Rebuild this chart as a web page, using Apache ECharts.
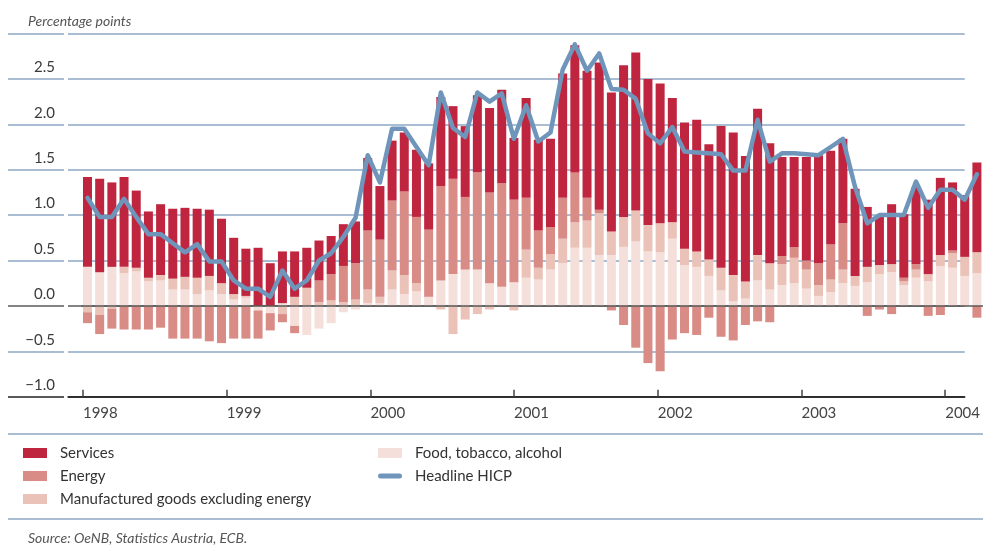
<!DOCTYPE html>
<html>
<head>
<meta charset="utf-8">
<script src="https://cdn.jsdelivr.net/npm/echarts@6/dist/echarts.min.js"></script>
<style>
  html, body { margin: 0; padding: 0; background: #fff; }
  #chart { width: 983px; height: 547px; }
</style>
</head>
<body>
<div id="chart"></div>
<script>
// tick labels on the time axis (one per January)
var years = ['1998', '1999', '2000', '2001', '2002', '2003', '2004'];
var monthNames = ['Jan', 'Feb', 'Mar', 'Apr', 'May', 'Jun', 'Jul', 'Aug', 'Sep', 'Oct', 'Nov', 'Dec'];

// contributions, percentage points, monthly Jan 1998 - Feb 2004
var food = [0.43, 0.37, 0.43, 0.36, 0.38, 0.27, 0.28, 0.18, 0.18, 0.13, 0.17, 0.13,
  0.07, 0.09, -0.05, -0.08, 0.03, -0.22, -0.32, -0.25, -0.19, -0.07, -0.04, 0.03,
  0.03, 0.18, 0.13, 0.16, 0.10, 0.28, 0.35, 0.40, 0.40, 0.25, 0.21, 0.26,
  0.31, 0.29, 0.40, 0.47, 0.64, 0.64, 0.56, 0.56, 0.65, 0.71, 0.60, 0.59,
  0.74, 0.45, 0.43, 0.33, 0.17, 0.05, 0.08, 0.28, 0.18, 0.23, 0.25, 0.19,
  0.11, 0.15, 0.25, 0.22, 0.26, 0.35, 0.37, 0.23, 0.31, 0.27, 0.44, 0.42,
  0.33, 0.36];
var manufactured = [-0.07, -0.10, -0.03, 0.07, 0.04, 0.04, 0.06, 0.12, 0.14, 0.18, 0.16, 0.12,
  0.06, 0.02, 0, 0, -0.09, 0.10, 0.20, 0.04, 0.06, 0.04, 0.07, 0.15,
  0.07, 0.21, 0.21, 0.09, 0, -0.04, -0.31, -0.15, -0.09, -0.04, 0, -0.05,
  0.31, 0.13, 0.17, 0.27, 0.28, 0.30, 0.46, 0.26, 0.33, 0.34, 0.29, 0.32,
  0.18, 0.18, 0.17, 0.18, 0.25, 0.29, 0.19, 0.28, 0.29, 0.23, 0.28, 0.21,
  0.12, 0.14, 0.15, 0.11, 0.17, 0.10, 0.09, 0.04, 0.09, 0.08, 0.12, 0.16,
  0.21, 0.23];
var energy = [-0.12, -0.21, -0.22, -0.26, -0.26, -0.26, -0.24, -0.36, -0.36, -0.36, -0.39, -0.41,
  -0.36, -0.36, -0.31, -0.19, -0.09, -0.08, 0, 0.24, 0.29, 0.40, 0.40, 0.65,
  0.63, 0.77, 0.92, 0.73, 0.74, 1.04, 1.05, 0.80, 1.07, 1.00, 1.14, 0.91,
  0.57, 0.41, 0.30, 0.45, 0.55, 0.25, 0.04, -0.05, -0.21, -0.46, -0.63, -0.72,
  -0.37, -0.30, -0.32, -0.13, -0.34, -0.38, -0.21, -0.17, -0.18, 0.09, 0.12, 0.10,
  0.24, 0.39, 0.51, 0, -0.11, -0.04, -0.09, 0.04, 0.06, -0.11, -0.10, 0.03,
  0, -0.13];
var services = [0.99, 1.03, 0.93, 0.99, 0.85, 0.73, 0.78, 0.77, 0.76, 0.76, 0.73, 0.71,
  0.62, 0.52, 0.64, 0.47, 0.57, 0.50, 0.44, 0.44, 0.42, 0.46, 0.46, 0.80,
  0.59, 0.66, 0.65, 0.74, 0.73, 0.98, 0.80, 0.78, 0.85, 0.93, 1.03, 0.68,
  1.10, 1.00, 0.97, 1.37, 1.40, 1.40, 1.62, 1.53, 1.67, 1.74, 1.61, 1.54,
  1.37, 1.39, 1.45, 1.27, 1.56, 1.57, 1.38, 1.61, 1.32, 1.09, 0.99, 1.14,
  1.19, 1.03, 0.93, 0.96, 0.66, 0.54, 0.66, 0.70, 0.85, 0.82, 0.85, 0.75,
  0.68, 0.99];
var hicp = [1.19, 0.98, 0.98, 1.18, 0.98, 0.79, 0.79, 0.69, 0.59, 0.68, 0.49, 0.49,
  0.28, 0.19, 0.19, 0.10, 0.39, 0.19, 0.28, 0.50, 0.58, 0.76, 0.97, 1.66,
  1.36, 1.95, 1.95, 1.75, 1.55, 2.35, 1.96, 1.86, 2.35, 2.25, 2.34, 1.84,
  2.21, 1.81, 1.91, 2.60, 2.88, 2.59, 2.78, 2.39, 2.38, 2.28, 1.90, 1.79,
  1.97, 1.70, 1.69, 1.68, 1.67, 1.49, 1.49, 2.05, 1.59, 1.68, 1.68, 1.67,
  1.66, 1.75, 1.84, 1.31, 0.91, 1.00, 1.00, 1.00, 1.37, 1.08, 1.28, 1.28,
  1.17, 1.45];

var months = services.map(function(v, i) {
  return monthNames[i % 12] + ' ' + years[Math.floor(i / 12)];
});

var FONT = 'Lato';
var GRID_BLUE = '#8ca7c5';
// one colour per split line, from -1.0 up to 3.0
var splitColors = ['#222', GRID_BLUE, '#5a5a5a', GRID_BLUE, GRID_BLUE, GRID_BLUE, GRID_BLUE, GRID_BLUE, GRID_BLUE];

// frame axis (grid 0) is a plain month scale, bars sit in grid 2 on a category axis
var tickOffset = -0.35;  // January tick sits just left of the January bar
var yearTicks = years.map(function(y, k) { return k * 12 + tickOffset; });

function barSeries(name, data, color) {
  return {
    name: name,
    type: 'bar',
    stack: 'hicp',
    barWidth: 9,
    xAxisIndex: 2,
    yAxisIndex: 2,
    itemStyle: { color: color },
    data: data
  };
}

var series = [
  barSeries('Food, tobacco, alcohol', food, '#f5dfdb'),
  barSeries('Manufactured goods excluding energy', manufactured, '#ebc2b8'),
  barSeries('Energy', energy, '#d98b86'),
  barSeries('Services', services, '#c0253f'),
  {
    name: 'Headline HICP',
    type: 'line',
    xAxisIndex: 2,
    yAxisIndex: 2,
    symbol: 'none',
    z: 5,
    itemStyle: { color: '#6f95ba' },
    lineStyle: { width: 4.5, color: '#6f95ba', join: 'round', cap: 'round' },
    data: hicp,
    markLine: {
      silent: true,
      symbol: 'none',
      label: { show: false },
      lineStyle: { color: '#5a5a5a', width: 1.5, type: 'solid' },
      data: [{ yAxis: 0 }]
    }
  }
];

var yRange = { type: 'value', min: -1, max: 3, interval: 0.5 };

var chart = echarts.init(document.getElementById('chart'));
chart.setOption({
  animation: false,
  textStyle: { fontFamily: FONT },
  title: [{
    text: 'Percentage points',
    left: 23, top: 9,
    textStyle: { fontFamily: FONT, fontStyle: 'italic', fontWeight: 'normal', fontSize: 14, color: '#555' }
  }, {
    text: 'Source: OeNB, Statistics Austria, ECB.',
    left: 23, top: 526,
    textStyle: { fontFamily: FONT, fontStyle: 'italic', fontWeight: 'normal', fontSize: 14, color: '#555' }
  }],
  grid: [
    { left: 68, right: 0, top: 33.5, bottom: 150.3 },
    { left: 8, width: 56, top: 33.5, bottom: 150.3 },
    { left: 81.4, width: 904.3, top: 33.5, bottom: 150.3 }
  ],
  xAxis: [{
    type: 'value',
    gridIndex: 0,
    min: -1.6,
    max: 73.28,
    splitLine: { show: false },
    axisLine: { show: true, onZero: false, lineStyle: { color: '#222', width: 1.5 } },
    axisTick: { show: true, inside: true, length: 7, customValues: yearTicks, lineStyle: { color: '#444', width: 1.5 } },
    axisLabel: {
      customValues: yearTicks,
      align: 'left',
      margin: 9,
      fontSize: 15,
      color: '#444',
      fontFamily: FONT,
      formatter: function(v) { return years[Math.round((v - tickOffset) / 12)]; }
    }
  }, {
    type: 'value',
    gridIndex: 1,
    show: false,
    min: 0, max: 1
  }, {
    type: 'category',
    gridIndex: 2,
    show: false,
    boundaryGap: true,
    data: months
  }],
  yAxis: [Object.assign({}, yRange, {
    gridIndex: 0,
    axisLine: { show: false },
    axisTick: { show: false },
    splitLine: { show: true, lineStyle: { color: splitColors, width: 1.5 } },
    axisLabel: {
      margin: 13,
      verticalAlign: 'bottom',
      padding: [0, 0, 4, 0],
      fontSize: 15,
      color: '#3a3a3a',
      fontFamily: FONT,
      formatter: function(v) {
        if (v >= 3) return '';
        return (v < 0 ? '\u2212' : '') + Math.abs(v).toFixed(1);
      }
    }
  }), Object.assign({}, yRange, {
    gridIndex: 1,
    axisLine: { show: false },
    axisTick: { show: false },
    axisLabel: { show: false },
    splitLine: { show: true, lineStyle: { color: splitColors, width: 1.5 } }
  }), Object.assign({}, yRange, {
    gridIndex: 2,
    show: false,
    splitLine: { show: false }
  })],
  legend: [{
    orient: 'vertical',
    left: 23, top: 445,
    padding: 0,
    itemWidth: 24, itemHeight: 10, itemGap: 7,
    icon: 'rect',
    textStyle: { fontFamily: FONT, fontSize: 15, lineHeight: 16, color: '#333', padding: [0, 0, 0, 8] },
    data: ['Services', 'Energy', 'Manufactured goods excluding energy']
  }, {
    orient: 'vertical',
    left: 378, top: 445,
    padding: 0,
    itemWidth: 24, itemHeight: 10, itemGap: 7,
    symbolKeepAspect: true,
    textStyle: { fontFamily: FONT, fontSize: 15, lineHeight: 16, color: '#333', padding: [0, 0, 0, 8] },
    data: [
      { name: 'Food, tobacco, alcohol', icon: 'rect' },
      { name: 'Headline HICP', icon: 'path://M2.5,0 L21.5,0 A2.5,2.5 0 0 1 21.5,5 L2.5,5 A2.5,2.5 0 0 1 2.5,0 Z' }
    ]
  }],
  graphic: [
    { type: 'line', shape: { x1: 8, y1: 434, x2: 983, y2: 434 }, style: { stroke: GRID_BLUE, lineWidth: 1.5 } },
    { type: 'line', shape: { x1: 8, y1: 519, x2: 983, y2: 519 }, style: { stroke: GRID_BLUE, lineWidth: 1.5 } }
  ],
  series: series
});
</script>
</body>
</html>
